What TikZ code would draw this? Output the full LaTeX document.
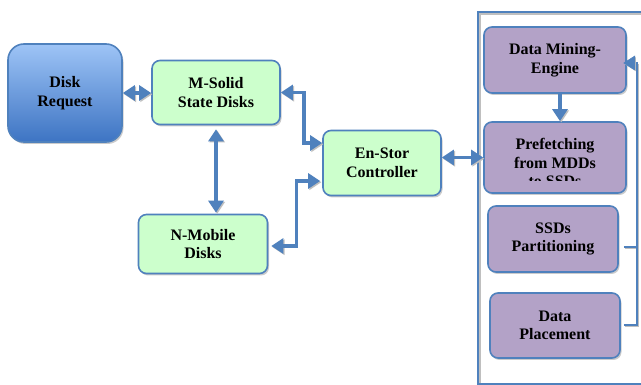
\documentclass[tikz,border=0pt]{standalone}
\usepackage{fontspec}
\setmainfont{Liberation Serif}
\usetikzlibrary{arrows.meta,shadows,calc}
\definecolor{edgeblue}{HTML}{4F81BD}
\definecolor{greenfill}{HTML}{CCFFCC}
\definecolor{purplefill}{HTML}{B3A2C7}
\definecolor{toplight}{HTML}{9EC4F6}
\definecolor{botdark}{HTML}{3D74C3}
\begin{document}
\begin{tikzpicture}[x=1pt,y=-1pt,
  lbl/.style={font=\bfseries\fontsize{16}{18.5}\selectfont, align=center, inner sep=0pt},
  box/.style={lbl, draw=edgeblue, line width=1.6pt, rounded corners=8pt,
    drop shadow={shadow xshift=1.5pt, shadow yshift=-2pt, fill=black!40, opacity=0.5}},
  gbox/.style={box, fill=greenfill},
  pbox/.style={box, fill=purplefill},
  bbox/.style={box, rounded corners=16pt, top color=toplight, bottom color=botdark},
  >={Triangle[length=12pt,width=15pt]},
  conn/.style={draw=edgeblue, line width=3.4pt,
    preaction={draw=black!25, transform canvas={shift={(1.2pt,-1.2pt)}}}},
  fb/.style={draw=edgeblue, line width=2pt,
    preaction={draw=black!25, transform canvas={shift={(1pt,-1.2pt)}}}},
  fbtip/.style={fill=edgeblue, draw=edgeblue, line width=0.5pt, line join=miter}
]
\clip (0,0) rectangle (641,385);
\fill[white] (0,0) rectangle (641,385);

% container
\draw[black!25, line width=1.5pt] (480,14) rectangle (648,386);
\draw[edgeblue, line width=1.5pt] (478,12) rectangle (646,384);

% nodes
\node[bbox, minimum width=114pt, minimum height=98pt] (dr) at (65,93) {Disk\\Request};
\node[gbox, minimum width=128pt, minimum height=64pt] (ms) at (216,92.5) {M-Solid\\State Disks};
\node[gbox, minimum width=129pt, minimum height=59pt] (nm) at (203,244) {N-Mobile\\Disks};
\node[gbox, minimum width=118pt, minimum height=65pt] (es) at (382,163) {En-Stor\\Controller};
\node[pbox, minimum width=142pt, minimum height=66pt] (dm) at (555,60) {Data Mining-\\Engine};
\node[pbox, minimum width=142pt, minimum height=71pt] (pf) at (555,157.5) {};
\node[pbox, minimum width=130pt, minimum height=66pt] (sp) at (553,239) {SSDs\\Partitioning};
\node[pbox, minimum width=130pt, minimum height=65pt] (dp) at (555,325.5) {Data\\Placement};

\begin{scope}
  \clip (pf.north west) rectangle ([yshift=13pt]pf.south east);
  \node[lbl, anchor=north] (pft) at (555,138.5) {Prefetching\\from MDDs\\to SSDs};
\end{scope}

% connectors
\draw[conn, <->] (dr.east) -- (dr.east -| ms.west);
\draw[conn, <->, shorten <=4pt, shorten >=1pt] (ms.south) -- (ms.south |- nm.north);
\draw[conn, <->] (ms.east) -- ++(23,0) |- ([yshift=20pt]es.west);
\draw[conn, <->, shorten <=3pt, shorten >=2pt] ([yshift=-2pt]nm.east) -- ++(28,0) |- ([yshift=-18pt]es.west);
\draw[conn, <->] (pf.west -| es.east) -- (pf.west);
\draw[conn, ->] ([xshift=5pt]dm.south) -- ([xshift=5pt]pf.north);

\coordinate (fbx) at (637,0);
\coordinate (dmin) at ([xshift=-3pt,yshift=-3pt]dm.east);
\draw[fb, shorten <=5pt] ([yshift=-8pt]sp.east) -- ([yshift=-8pt]sp.east -| fbx);
\draw[fb, shorten <=3pt] (dp.east) -- (dp.east -| fbx) -- (fbx |- dmin) -- ([xshift=10pt]dmin);
\fill[black!25] ([xshift=1pt,yshift=-1.2pt]dmin) -- ++(11,-7) -- ++(0,14) -- cycle;
\filldraw[fbtip] (dmin) -- ++(11,-7) -- ++(0,14) -- cycle;
\end{tikzpicture}
\end{document}
